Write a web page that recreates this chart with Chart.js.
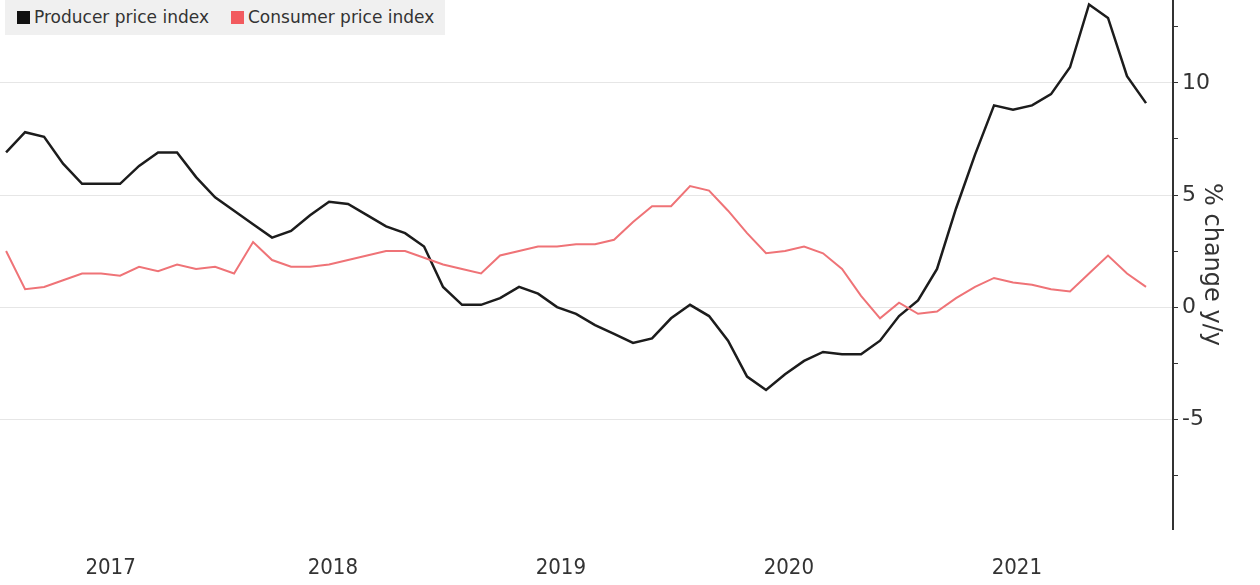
<!DOCTYPE html>
<html>
<head>
<meta charset="utf-8">
<script src="https://cdn.jsdelivr.net/npm/chart.js@4.4.0/dist/chart.umd.min.js"></script>
<style>
html,body{margin:0;padding:0;background:#fff;}
#wrap{position:relative;width:1260px;height:585px;overflow:hidden;}
#c{position:absolute;left:0;top:0;}
#legend{position:absolute;left:5px;top:0;width:440px;height:35px;background:#f0f0f0;font-family:'DejaVu Sans',sans-serif;font-size:17px;color:#333;}
#legend .item{position:absolute;top:7px;white-space:nowrap;line-height:20px;}
#legend .sw{display:inline-block;width:13px;height:13px;vertical-align:-1px;margin-right:4px;}
</style>
</head>
<body>
<div id="wrap">
<canvas id="c" width="1260" height="585"></canvas>
<div id="legend">
  <div class="item" style="left:12px"><span class="sw" style="background:#111"></span>Producer price index</div>
  <div class="item" style="left:226px"><span class="sw" style="background:#f25a5e"></span>Consumer price index</div>
</div>
</div>
<script>
// Months, Jan 2017 .. Jan 2022
const months = [
 '2017-01','2017-02','2017-03','2017-04','2017-05','2017-06','2017-07','2017-08','2017-09','2017-10','2017-11','2017-12',
 '2018-01','2018-02','2018-03','2018-04','2018-05','2018-06','2018-07','2018-08','2018-09','2018-10','2018-11','2018-12',
 '2019-01','2019-02','2019-03','2019-04','2019-05','2019-06','2019-07','2019-08','2019-09','2019-10','2019-11','2019-12',
 '2020-01','2020-02','2020-03','2020-04','2020-05','2020-06','2020-07','2020-08','2020-09','2020-10','2020-11','2020-12',
 '2021-01','2021-02','2021-03','2021-04','2021-05','2021-06','2021-07','2021-08','2021-09','2021-10','2021-11','2021-12',
 '2022-01'
];
const ppi = [
 6.9,7.8,7.6,6.4,5.5,5.5,5.5,6.3,6.9,6.9,5.8,4.9,
 4.3,3.7,3.1,3.4,4.1,4.7,4.6,4.1,3.6,3.3,2.7,0.9,
 0.1,0.1,0.4,0.9,0.6,0.0,-0.3,-0.8,-1.2,-1.6,-1.4,-0.5,
 0.1,-0.4,-1.5,-3.1,-3.7,-3.0,-2.4,-2.0,-2.1,-2.1,-1.5,-0.4,
 0.3,1.7,4.4,6.8,9.0,8.8,9.0,9.5,10.7,13.5,12.9,10.3,
 9.1
];
const cpi = [
 2.5,0.8,0.9,1.2,1.5,1.5,1.4,1.8,1.6,1.9,1.7,1.8,
 1.5,2.9,2.1,1.8,1.8,1.9,2.1,2.3,2.5,2.5,2.2,1.9,
 1.7,1.5,2.3,2.5,2.7,2.7,2.8,2.8,3.0,3.8,4.5,4.5,
 5.4,5.2,4.3,3.3,2.4,2.5,2.7,2.4,1.7,0.5,-0.5,0.2,
 -0.3,-0.2,0.4,0.9,1.3,1.1,1.0,0.8,0.7,1.5,2.3,1.5,
 0.9
];
const yearLabels = ['2017','2018','2019','2020','2021'];
const yearTickPos = [5.5, 17.2, 29.2, 41.2, 53.2]; // month-index where each year label sits
const yTicks = [-7.5,-5,-2.5,0,2.5,5,7.5,10,12.5];

const toXY = arr => arr.map((v,i)=>({x:i,y:v}));

new Chart(document.getElementById('c'), {
  type: 'line',
  data: {
    datasets: [
      {label:'Consumer price index', data: toXY(cpi), borderColor:'#ef7377', borderWidth:2, pointRadius:0, tension:0},
      {label:'Producer price index', data: toXY(ppi), borderColor:'#1c1c1c', borderWidth:2.5, pointRadius:0, tension:0}
    ]
  },
  options: {
    responsive:false,
    animation:false,
    layout:{padding:0},
    plugins:{legend:{display:false}, tooltip:{enabled:false}},
    scales:{
      x:{
        type:'linear', min:-0.32, max:61.42,
        grid:{display:false, drawTicks:false},
        border:{display:false},
        afterBuildTicks: s => { s.ticks = yearTickPos.map(v=>({value:v})); },
        afterFit: s => { s.height = 56; s.paddingLeft = 0; s.paddingRight = 0; },
        ticks:{
          autoSkip:false, maxRotation:0, padding:26,
          font:{family:"'DejaVu Sans Condensed','DejaVu Sans'", size:22},
          color:'#333',
          callback:(v,i)=>yearLabels[i]
        }
      },
      y:{
        type:'linear', position:'right', min:-9.9, max:13.7,
        afterBuildTicks: s => { s.ticks = yTicks.map(v=>({value:v})); },
        afterFit: s => { s.width = 87; s.paddingTop = 0; s.paddingBottom = 0; },
        grid:{
          color: c => (c.tick && c.tick.value % 5 === 0) ? '#e6e6e6' : 'rgba(0,0,0,0)',
          tickColor:'#333', tickLength:5, lineWidth:1
        },
        border:{display:true, color:'#333', width:2},
        ticks:{
          padding:4,
          font:{family:"'DejaVu Sans'", size:22},
          color:'#333',
          callback: v => (v % 5 === 0 ? String(v) : '')
        },
        title:{
          display:true, text:'% change y/y',
          font:{family:"'DejaVu Sans'", size:24},
          color:'#333',
          padding:{top:34, bottom:0}
        }
      }
    }
  }
});
</script>
</body>
</html>
